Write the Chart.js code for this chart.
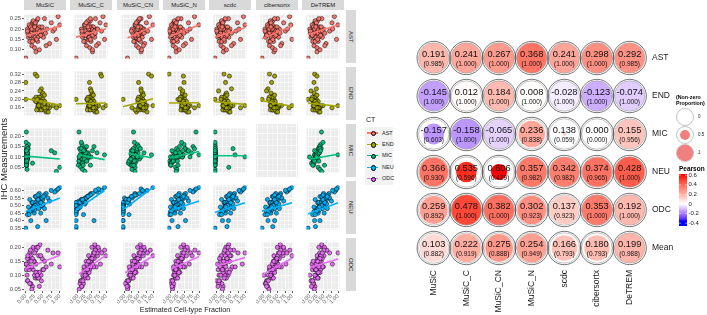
<!DOCTYPE html>
<html>
<head>
<meta charset="utf-8">
<script src="https://cdn.jsdelivr.net/npm/chart.js@4.4.1/dist/chart.umd.min.js"></script>
<style>
  body { margin: 0; background: #fff; width: 707px; height: 315px; position: relative; overflow: hidden; font-family: "Liberation Sans", Arial, sans-serif; }
  canvas { position: absolute; }
  .strip { position: absolute; background: #d9d9d9; color: #1a1a1a; font-size: 6px; display: flex; align-items: center; justify-content: center; white-space: nowrap; }
  .vstrip { writing-mode: vertical-rl; }
  .lbl { position: absolute; white-space: nowrap; color: #000; }
</style>
</head>
<body>
<script>
// categories
const methods = ['MuSiC', 'MuSiC_C', 'MuSiC_CN', 'MuSiC_N', 'scdc', 'cibersortx', 'DeTREM'];
const cellTypes = ['AST', 'END', 'MIC', 'NEU', 'ODC'];
const matrixRows = ['AST', 'END', 'MIC', 'NEU', 'ODC', 'Mean'];

// tick labels
const xTicks = [0, 0.25, 0.5, 0.75, 1];
const yTicksAST = [0.10, 0.15, 0.20, 0.25];
const yTicksEND = [0.16, 0.20, 0.24, 0.28, 0.32];
const yTicksMIC = [0.05, 0.10, 0.15, 0.20];
const yTicksNEU = [0.35, 0.40, 0.45, 0.50, 0.55, 0.60];
const yTicksODC = [0.05, 0.10, 0.15, 0.20];

// IHC measurements (same samples in every method column)
const ihcAST = [0.19,0.21,0.17,0.23,0.16,0.20,0.18,0.25,0.14,0.22,0.19,0.12,0.24,0.17,0.21,0.15,0.20,0.26,0.13,0.18,
  0.22,0.16,0.19,0.11,0.23,0.20,0.17,0.06,0.21,0.15,0.18,0.24,0.14,0.20,0.09,0.19,0.16,0.22,0.12,0.25,
  0.18,0.20,0.16,0.22,0.19,0.14,0.21,0.17,0.23,0.19,0.15,0.20,0.18,0.10,0.21,0.17];
const ihcEND = [0.17,0.19,0.16,0.21,0.15,0.18,0.20,0.32,0.16,0.17,0.22,0.15,0.31,0.18,0.19,0.16,0.25,0.17,0.14,0.20,
  0.18,0.16,0.23,0.15,0.17,0.21,0.28,0.16,0.19,0.15,0.18,0.24,0.17,0.16,0.20,0.15,0.19,0.22,0.17,0.16,
  0.18,0.16,0.20,0.17,0.15,0.19,0.21,0.16,0.18,0.17,0.14,0.20,0.16,0.19,0.17,0.18];
const ihcMIC = [0.10,0.12,0.08,0.14,0.09,0.11,0.15,0.07,0.13,0.10,0.22,0.09,0.12,0.06,0.11,0.16,0.08,0.10,0.13,0.05,
  0.11,0.09,0.14,0.12,0.07,0.10,0.17,0.08,0.15,0.04,0.11,0.13,0.09,0.12,0.10,0.03,0.08,0.14,0.11,0.06,
  0.09,0.11,0.13,0.08,0.10,0.12,0.07,0.14,0.10,0.09,0.11,0.06,0.12,0.10,0.08,0.13];
const ihcNEU = [0.50,0.55,0.48,0.58,0.45,0.52,0.60,0.47,0.54,0.50,0.40,0.56,0.49,0.62,0.51,0.46,0.57,0.53,0.35,0.59,
  0.48,0.52,0.44,0.55,0.61,0.50,0.47,0.40,0.54,0.58,0.51,0.36,0.49,0.56,0.53,0.45,0.60,0.48,0.52,0.57,
  0.52,0.49,0.54,0.47,0.51,0.55,0.50,0.46,0.53,0.48,0.56,0.50,0.44,0.52,0.49,0.54];
const ihcODC = [0.14,0.18,0.10,0.20,0.08,0.15,0.12,0.17,0.06,0.13,0.19,0.11,0.16,0.09,0.21,0.14,0.07,0.18,0.12,0.15,
  0.10,0.20,0.13,0.05,0.17,0.11,0.16,0.19,0.08,0.14,0.12,0.18,0.09,0.15,0.20,0.13,0.10,0.16,0.07,0.17,
  0.12,0.15,0.09,0.17,0.13,0.11,0.19,0.14,0.08,0.16,0.10,0.13,0.18,0.06,0.15,0.12];

// estimated fractions, one list per method (order of methods[])
const fracAST = [
  [0.30,0.12,0.45,0.20,0.08,0.62,0.25,0.55,0.35,0.15,0.80,0.18,0.32,0.10,0.40,0.22,0.05,0.95,0.70,0.38,0.28,0.52,0.14,0.26,0.75,0.34,0.18,0.00,0.48,0.90,0.06,0.22,0.12,0.85,0.30,0.42,0.28,1.00,0.60,0.36, 0.16,0.24,0.36,0.10,0.50,0.20,0.14,0.44,0.28,0.05,0.32,0.18,0.58,0.40,0.26,0.12],
  [0.45,0.30,0.60,0.38,0.22,0.70,0.42,0.65,0.50,0.28,0.85,0.35,0.48,0.25,0.55,0.40,0.18,0.90,0.75,0.52,0.44,0.62,0.32,0.46,0.80,0.50,0.36,0.00,0.58,0.95,0.20,0.40,0.30,0.72,0.55,0.56,0.42,1.00,0.68,0.48, 0.38,0.52,0.44,0.30,0.60,0.26,0.46,0.56,0.34,0.20,0.48,0.42,0.64,0.55,0.40,0.32],
  [0.50,0.42,0.62,0.48,0.35,0.70,0.55,0.60,0.58,0.40,0.82,0.45,0.52,0.38,0.56,0.50,0.30,0.88,0.72,0.54,0.46,0.64,0.44,0.52,0.78,0.58,0.48,0.15,0.60,0.95,0.32,0.50,0.40,0.66,0.60,0.62,0.44,1.00,0.68,0.55, 0.46,0.56,0.52,0.42,0.64,0.36,0.58,0.50,0.44,0.28,0.54,0.48,0.70,0.62,0.50,0.40],
  [0.22,0.10,0.35,0.15,0.05,0.45,0.18,0.40,0.28,0.12,0.60,0.14,0.25,0.08,0.30,0.20,0.03,0.85,0.55,0.28,0.20,0.42,0.10,0.22,0.65,0.26,0.15,0.00,0.38,0.75,0.04,0.18,0.10,0.70,0.24,0.32,0.20,1.00,0.48,0.30, 0.14,0.22,0.30,0.08,0.40,0.16,0.12,0.36,0.24,0.02,0.26,0.14,0.50,0.34,0.20,0.10],
  [0.26,0.14,0.40,0.20,0.10,0.50,0.22,0.45,0.32,0.16,0.70,0.20,0.30,0.12,0.36,0.24,0.06,0.95,0.62,0.30,0.24,0.46,0.12,0.28,0.75,0.30,0.18,0.00,0.42,0.85,0.08,0.22,0.14,0.80,0.28,0.38,0.24,1.00,0.55,0.34, 0.18,0.28,0.34,0.12,0.46,0.22,0.16,0.40,0.26,0.06,0.30,0.20,0.55,0.38,0.24,0.12],
  [0.32,0.20,0.48,0.26,0.12,0.58,0.30,0.52,0.38,0.22,0.78,0.25,0.36,0.16,0.44,0.30,0.10,0.92,0.66,0.40,0.34,0.55,0.20,0.35,0.72,0.42,0.26,0.00,0.50,1.00,0.14,0.28,0.22,0.85,0.40,0.46,0.32,0.96,0.62,0.42, 0.24,0.34,0.40,0.18,0.52,0.28,0.20,0.46,0.30,0.10,0.36,0.24,0.60,0.44,0.30,0.16],
  [0.28,0.16,0.42,0.22,0.10,0.52,0.24,0.46,0.34,0.18,0.72,0.20,0.32,0.12,0.38,0.26,0.06,0.88,0.60,0.32,0.26,0.48,0.14,0.30,0.80,0.34,0.20,0.00,0.44,0.95,0.08,0.24,0.16,0.82,0.30,0.40,0.26,1.00,0.56,0.36, 0.20,0.30,0.36,0.14,0.48,0.24,0.18,0.42,0.28,0.08,0.32,0.22,0.56,0.40,0.26,0.14]
];
const fracEND = [
  [0.45,0.30,0.55,0.38,0.62,0.42,0.50,0.28,0.35,0.58,0.48,0.40,0.33,0.52,0.44,0.70,0.46,0.36,0.60,0.25,0.54,0.48,0.50,0.32,0.80,0.40,0.00,0.44,0.56,0.52,0.38,0.42,0.65,0.58,0.00,0.46,0.30,0.55,1.00,0.90, 0.40,0.52,0.36,0.48,0.58,0.44,0.30,0.62,0.42,0.50,0.66,0.34,0.56,0.46,0.38,0.54],
  [0.50,0.42,0.58,0.46,0.62,0.48,0.55,0.82,0.40,0.60,0.52,0.44,0.85,0.56,0.50,0.68,0.48,0.42,0.64,0.36,0.58,0.50,0.54,0.38,0.75,0.46,0.45,0.52,0.60,0.56,0.44,0.50,0.66,0.62,0.00,0.48,0.40,0.58,1.00,0.90, 0.46,0.54,0.42,0.50,0.60,0.48,0.40,0.64,0.52,0.44,0.70,0.38,0.58,0.50,0.46,0.56],
  [0.62,0.55,0.68,0.60,0.72,0.58,0.66,0.85,0.52,0.70,0.64,0.56,0.95,0.68,0.62,0.75,0.60,0.54,0.45,0.50,0.70,0.62,0.66,0.48,0.80,0.58,0.52,0.64,0.72,0.66,0.56,0.60,0.74,0.70,0.00,0.40,0.50,0.68,1.00,0.30, 0.58,0.66,0.54,0.62,0.70,0.60,0.52,0.76,0.64,0.56,0.80,0.50,0.68,0.62,0.58,0.66],
  [0.48,0.40,0.55,0.45,0.58,0.50,0.52,0.00,0.42,0.56,0.46,0.44,0.48,0.54,0.50,0.62,0.38,0.46,0.60,0.36,0.52,0.48,0.44,0.40,0.70,0.42,0.50,0.56,0.58,0.50,0.44,0.46,0.64,0.60,0.30,0.52,0.40,0.54,1.00,0.85, 0.44,0.52,0.40,0.48,0.56,0.46,0.38,0.60,0.50,0.42,0.66,0.36,0.54,0.48,0.44,0.52],
  [0.32,0.25,0.40,0.30,0.45,0.36,0.38,0.30,0.28,0.42,0.34,0.30,0.48,0.40,0.35,0.50,0.55,0.32,0.46,0.22,0.40,0.36,0.38,0.26,0.60,0.30,0.35,0.42,0.44,0.38,0.30,0.12,0.52,0.48,0.00,0.34,0.28,0.40,1.00,0.85, 0.28,0.36,0.24,0.32,0.40,0.30,0.22,0.44,0.34,0.26,0.50,0.20,0.38,0.32,0.28,0.36],
  [0.35,0.28,0.42,0.32,0.50,0.38,0.40,0.25,0.30,0.45,0.36,0.34,0.42,0.44,0.38,0.55,0.20,0.36,0.48,0.24,0.42,0.40,0.30,0.28,0.65,0.34,0.32,0.46,0.44,0.40,0.32,0.15,0.56,0.52,0.00,0.36,0.30,0.42,1.00,0.90, 0.30,0.38,0.26,0.34,0.44,0.32,0.24,0.48,0.36,0.28,0.52,0.22,0.40,0.34,0.30,0.38],
  [0.25,0.18,0.30,0.22,0.35,0.26,0.28,0.22,0.20,0.32,0.24,0.22,0.30,0.30,0.26,0.40,0.28,0.24,0.36,0.14,0.28,0.26,0.20,0.16,0.50,0.22,0.20,0.32,0.34,0.28,0.22,0.10,0.42,0.38,0.00,0.24,0.18,0.30,1.00,0.80, 0.20,0.28,0.16,0.24,0.32,0.22,0.14,0.36,0.26,0.18,0.40,0.12,0.30,0.24,0.20,0.28]
];
const fracMIC = [
  [0.02,0.04,0.01,0.03,0.05,0.02,0.06,0.03,0.01,0.04,0.02,0.03,0.05,0.01,0.04,0.08,0.02,0.03,0.75,1.00,0.02,0.05,0.04,0.03,0.20,0.06,0.01,0.02,0.03,0.04,0.05,0.02,0.03,0.85,0.01,0.90,0.04,0.07,0.02,0.03, 0.03,0.01,0.04,0.02,0.05,0.03,0.02,0.06,0.01,0.04,0.03,0.02,0.05,0.01,0.03,0.02],
  [0.15,0.25,0.10,0.30,0.20,0.18,0.35,0.12,0.22,0.28,0.10,0.14,0.40,0.08,0.32,0.20,0.24,0.45,0.55,0.16,0.26,0.38,0.12,0.30,0.20,0.50,0.18,0.34,0.60,0.22,0.42,0.28,0.14,0.70,0.36,0.30,0.10,0.24,0.95,0.48, 0.20,0.30,0.16,0.26,0.12,0.34,0.22,0.18,0.40,0.28,0.14,0.24,0.32,0.10,0.36,0.26],
  [0.30,0.35,0.25,0.40,0.32,0.28,0.42,0.20,0.45,0.38,0.35,0.30,0.50,0.26,0.34,0.48,0.22,0.36,0.44,0.40,0.28,0.55,0.46,0.32,0.18,0.60,0.38,0.24,0.52,0.30,0.42,0.36,0.26,0.70,0.34,0.40,0.20,0.58,0.95,0.30, 0.32,0.38,0.28,0.44,0.36,0.30,0.40,0.34,0.46,0.26,0.42,0.36,0.30,0.48,0.38,0.32],
  [0.05,0.15,0.02,0.25,0.10,0.20,0.35,0.08,0.30,0.12,0.90,0.18,0.40,0.06,0.28,0.50,0.14,0.45,0.60,0.22,0.32,0.10,0.55,0.38,0.04,0.70,0.42,0.16,0.80,0.26,0.48,0.65,0.20,0.75,0.36,0.24,0.12,0.85,1.00,0.30, 0.18,0.34,0.10,0.28,0.44,0.22,0.08,0.52,0.30,0.16,0.40,0.06,0.36,0.24,0.14,0.46],
  [0,0,0,0,0,0,0,0,0,0,0,0,0,0,0,0,0,0,0,0.46,0,0,0.60,0,0,1.00,0,0,0,0,0,0,0,0,0,0,0,0,0.67,0, 0,0,0,0,0,0,0,0,0,0,0,0,0,0,0,0],
  [],
  [0.25,0.30,0.20,0.35,0.28,0.22,0.40,0.15,0.32,0.26,0.45,0.24,0.38,0.18,0.30,0.42,0.20,0.28,0.36,0.34,0.22,0.16,0.44,0.30,0.12,0.26,0.50,0.20,0.38,0.40,0.28,0.34,0.24,0.32,0.05,0.46,0.18,0.36,1.00,0.55, 0.28,0.32,0.22,0.36,0.26,0.30,0.20,0.40,0.34,0.24,0.30,0.16,0.38,0.28,0.22,0.42]
];
const fracNEU = [
  [0.30,0.45,0.20,0.60,0.25,0.40,0.90,0.15,0.50,0.35,0.15,0.28,0.42,1.00,0.22,0.10,0.55,0.32,0.00,0.85,0.38,0.18,0.05,0.65,0.95,0.48,0.26,0.60,0.12,0.40,0.52,0.35,0.08,0.30,0.70,0.44,0.75,0.55,0.20,0.36, 0.30,0.22,0.42,0.18,0.34,0.48,0.26,0.12,0.38,0.20,0.52,0.28,0.10,0.44,0.24,0.36],
  [0.00,0.35,0.02,0.50,0.00,0.20,0.85,0.00,0.28,0.01,0.00,0.40,0.05,0.95,0.15,0.00,0.45,0.10,0.00,0.70,0.03,0.00,0.25,0.30,0.75,0.00,0.02,0.60,0.18,0.55,0.00,0.00,0.04,0.38,0.22,0.00,0.65,0.08,0.12,0.48, 0.00,0.10,0.20,0.00,0.30,0.35,0.02,0.00,0.25,0.06,0.40,0.00,0.00,0.32,0.14,0.22],
  [0.00,0.05,0.00,0.40,0.00,0.02,0.80,0.00,0.15,0.00,0.00,0.30,0.00,1.00,0.01,0.00,0.45,0.10,0.00,0.70,0.00,0.03,0.20,0.25,0.60,0.00,0.00,0.00,0.12,0.55,0.02,0.00,0.00,0.35,0.08,0.00,0.65,0.00,0.05,0.40, 0.00,0.00,0.10,0.00,0.22,0.30,0.00,0.00,0.18,0.00,0.28,0.00,0.00,0.15,0.00,0.20],
  [0.25,0.40,0.15,0.55,0.20,0.35,0.85,0.10,0.45,0.30,0.10,0.22,0.38,1.00,0.18,0.05,0.50,0.28,0.00,0.80,0.32,0.14,0.02,0.60,0.90,0.42,0.20,0.55,0.08,0.34,0.46,0.30,0.05,0.26,0.65,0.38,0.70,0.48,0.16,0.30, 0.26,0.18,0.38,0.14,0.30,0.44,0.22,0.08,0.34,0.16,0.48,0.24,0.06,0.40,0.20,0.32],
  [0.40,0.52,0.30,0.65,0.35,0.48,0.90,0.25,0.58,0.44,0.25,0.38,0.50,1.00,0.32,0.20,0.62,0.42,0.00,0.85,0.46,0.30,0.15,0.70,0.95,0.55,0.36,0.45,0.22,0.50,0.60,0.40,0.18,0.42,0.75,0.52,0.80,0.62,0.34,0.46, 0.40,0.34,0.50,0.30,0.44,0.56,0.38,0.26,0.48,0.32,0.60,0.42,0.22,0.52,0.36,0.46],
  [0.35,0.48,0.25,0.62,0.30,0.44,0.88,0.20,0.55,0.40,0.20,0.34,0.46,1.00,0.28,0.15,0.60,0.38,0.00,0.82,0.42,0.26,0.10,0.66,0.92,0.50,0.32,0.42,0.18,0.46,0.56,0.36,0.12,0.38,0.72,0.48,0.78,0.58,0.28,0.42, 0.36,0.30,0.46,0.26,0.40,0.52,0.34,0.22,0.44,0.28,0.56,0.38,0.18,0.48,0.32,0.42],
  [0.40,0.55,0.30,0.70,0.34,0.50,0.92,0.26,0.62,0.46,0.22,0.40,0.52,1.00,0.36,0.20,0.66,0.45,0.00,0.88,0.48,0.32,0.16,0.72,0.95,0.56,0.38,0.40,0.24,0.52,0.62,0.25,0.20,0.46,0.78,0.54,0.82,0.64,0.36,0.50, 0.44,0.36,0.54,0.32,0.48,0.60,0.42,0.28,0.52,0.34,0.64,0.46,0.24,0.56,0.38,0.50]
];
const fracODC = [
  [0.30,0.12,0.45,0.22,0.05,0.55,0.02,0.38,0.20,0.10,0.65,0.35,0.08,0.28,0.42,0.00,0.15,0.80,0.50,0.25,0.04,0.32,0.60,0.18,0.14,0.40,0.48,0.30,0.06,0.75,0.22,0.95,0.34,0.10,0.36,1.00,0.26,0.05,0.12,0.44, 0.10,0.24,0.38,0.06,0.18,0.30,0.14,0.02,0.46,0.20,0.34,0.08,0.26,0.40,0.16,0.52],
  [0.40,0.55,0.30,0.62,0.10,0.48,0.22,0.70,0.15,0.35,0.75,0.28,0.45,0.20,0.60,0.52,0.08,0.85,0.42,0.30,0.18,0.50,0.65,0.05,0.38,0.25,0.58,0.95,0.12,0.80,0.34,0.68,0.26,0.44,0.72,0.56,0.32,0.46,0.20,1.00, 0.28,0.44,0.36,0.54,0.22,0.40,0.62,0.32,0.18,0.50,0.26,0.46,0.58,0.14,0.38,0.34],
  [0.35,0.50,0.25,0.58,0.08,0.42,0.18,0.65,0.12,0.30,0.70,0.40,0.38,0.22,0.55,0.48,0.05,0.80,0.36,0.26,0.15,0.45,0.60,0.10,0.32,0.20,0.52,0.90,0.14,0.75,0.28,0.62,0.24,0.40,0.68,0.50,0.30,0.42,0.02,1.00, 0.22,0.40,0.30,0.50,0.16,0.36,0.58,0.28,0.12,0.46,0.20,0.42,0.54,0.08,0.34,0.26],
  [0.28,0.40,0.20,0.48,0.04,0.35,0.12,0.55,0.08,0.22,0.60,0.32,0.30,0.16,0.45,0.38,0.02,0.70,0.26,0.18,0.10,0.36,0.50,0.06,0.24,0.14,0.42,0.85,0.00,0.65,0.20,1.00,0.18,0.30,0.58,0.44,0.22,0.34,0.10,0.75, 0.16,0.32,0.24,0.42,0.10,0.28,0.50,0.20,0.06,0.38,0.14,0.34,0.46,0.04,0.26,0.18],
  [0.30,0.25,0.40,0.35,0.10,0.45,0.05,0.50,0.22,0.15,0.60,0.38,0.12,0.30,0.42,0.02,0.18,0.75,0.48,0.26,0.08,0.32,0.55,0.20,0.16,0.44,0.36,0.28,0.00,0.90,0.24,1.00,0.34,0.14,0.40,0.65,0.28,0.10,0.06,0.46, 0.18,0.34,0.26,0.30,0.12,0.22,0.48,0.28,0.08,0.36,0.14,0.32,0.40,0.04,0.24,0.20],
  [0.40,0.52,0.28,0.60,0.10,0.45,0.20,0.68,0.14,0.32,0.72,0.30,0.42,0.24,0.58,0.50,0.05,0.82,0.38,0.34,0.00,0.48,0.62,0.18,0.36,0.26,0.55,0.92,0.12,0.78,0.22,0.66,0.30,0.44,0.70,0.54,0.16,0.46,0.08,1.00, 0.26,0.42,0.34,0.50,0.20,0.38,0.60,0.30,0.16,0.46,0.24,0.44,0.56,0.10,0.36,0.32],
  [0.30,0.35,0.22,0.45,0.06,0.40,0.10,0.50,0.18,0.26,0.55,0.34,0.28,0.20,0.42,0.08,0.14,0.70,0.38,0.24,0.00,0.32,0.48,0.16,0.26,0.36,0.44,0.60,0.04,0.80,0.22,1.00,0.30,0.12,0.52,0.46,0.20,0.34,0.12,0.38, 0.20,0.34,0.28,0.40,0.14,0.30,0.50,0.24,0.10,0.36,0.18,0.32,0.44,0.06,0.28,0.22]
];

// fitted line values at the left and right end of each panel's data
const fitAST = [[0.166,0.214],[0.161,0.201],[0.157,0.214],[0.163,0.219],[0.161,0.206],[0.153,0.214],[0.174,0.219]];
const fitEND = [[0.204,0.173],[0.179,0.183],[0.165,0.203],[0.183,0.184],[0.189,0.176],[0.193,0.167],[0.183,0.167]];
const fitMIC = [[0.104,0.090],[0.109,0.087],[0.117,0.096],[0.096,0.126],[0.106,0.106],null,[0.089,0.113]];
const fitNEU = [[0.460,0.550],[0.470,0.600],[0.472,0.620],[0.463,0.530],[0.454,0.518],[0.463,0.518],[0.444,0.518]];
const fitODC = [[0.124,0.172],[0.105,0.172],[0.109,0.169],[0.122,0.167],[0.133,0.164],[0.105,0.161],[0.128,0.158]];

// correlation matrix (rows = matrixRows, cols = methods)
const pearson = [
  [0.191, 0.241, 0.267, 0.368, 0.241, 0.298, 0.292],
  [-0.145, 0.012, 0.184, 0.008, -0.028, -0.123, -0.074],
  [-0.157, -0.158, -0.065, 0.236, 0.138, 0.000, 0.155],
  [0.366, 0.535, 0.606, 0.357, 0.342, 0.374, 0.428],
  [0.259, 0.478, 0.382, 0.302, 0.137, 0.353, 0.192],
  [0.103, 0.222, 0.275, 0.254, 0.166, 0.180, 0.199]
];
const nonZero = [
  [0.985, 1.000, 1.000, 1.000, 1.000, 1.000, 0.985],
  [1.000, 1.000, 1.000, 1.000, 1.000, 1.000, 1.000],
  [0.603, 1.000, 1.000, 0.838, 0.059, 0.000, 0.956],
  [0.930, 0.596, 0.429, 0.982, 0.982, 0.965, 1.000],
  [0.892, 1.000, 1.000, 0.923, 0.923, 1.000, 1.000],
  [0.882, 0.919, 0.888, 0.949, 0.793, 0.793, 0.988]
];

// ---------------------------------------------------------------
Chart.defaults.font.family = '"Liberation Sans", Arial, sans-serif';
Chart.defaults.animation = false;

const ctColors = ['#F8766D', '#A3A500', '#00BF7D', '#00B0F6', '#E76BF3'];
const ihcRows = [ihcAST, ihcEND, ihcMIC, ihcNEU, ihcODC];
const fracRows = [fracAST, fracEND, fracMIC, fracNEU, fracODC];
const fitRows = [fitAST, fitEND, fitMIC, fitNEU, fitODC];
const yTickRows = [yTicksAST, yTicksEND, yTicksMIC, yTicksNEU, yTicksODC];
const yRanges = [[0.058, 0.270], [0.1235, 0.332], [0.025, 0.237], [0.341, 0.633], [0.0435, 0.2174]];

const colLeft = c => Math.round(24 + c * 46.3);
const rowTop = r => 10 + r * 57;
const panelW = 42, panelH = 53;

function addEl(cls, css, text) {
  const d = document.createElement('div');
  d.className = cls;
  Object.assign(d.style, css);
  if (text != null) d.textContent = text;
  document.body.appendChild(d);
  return d;
}
function addCanvas(left, top, w, h) {
  const cv = document.createElement('canvas');
  cv.width = w; cv.height = h;
  cv.style.left = left + 'px'; cv.style.top = top + 'px';
  document.body.appendChild(cv);
  return cv;
}

// majors plus midpoints (ggplot minor grid)
function gridWith(majors, lo, hi) {
  const step = majors[1] - majors[0];
  const out = [];
  for (let v = majors[0] - step / 2; v <= hi + 1e-9; v += step / 2) {
    if (v >= lo && v <= hi) out.push(+v.toFixed(5));
  }
  return out;
}
const isMajor = (v, majors) => majors.some(m => Math.abs(m - v) < 1e-6);

const panelBg = {
  id: 'panelBg',
  beforeDraw(chart) {
    const a = chart.chartArea, ctx = chart.ctx;
    ctx.save();
    ctx.fillStyle = '#ebebeb';
    ctx.fillRect(a.left, a.top, a.right - a.left, a.bottom - a.top);
    ctx.restore();
  }
};

// ---------------- facet grid ----------------
cellTypes.forEach((ct, r) => {
  const yMaj = yTickRows[r];
  const [yLo, yHi] = yRanges[r];
  const yGrid = gridWith(yMaj, yLo, yHi);
  const xGrid = gridWith(xTicks, -0.05, 1.05);

  methods.forEach((m, c) => {
    const yAxisW = c === 0 ? 24 : 0;
    const xAxisH = r === 4 ? 22 : 0;
    const cv = addCanvas(colLeft(c) - yAxisW, rowTop(r), panelW + yAxisW, panelH + xAxisH);

    const xs = fracRows[r][c];
    const pts = xs.map((x, i) => ({ x: x, y: ihcRows[r][i] }));
    const fit = fitRows[r][c];
    const datasets = [];
    if (fit && xs.length) {
      const x0 = Math.min(...xs), x1 = Math.max(...xs);
      datasets.push({ data: [{ x: x0, y: fit[0] }, { x: x1, y: fit[1] }], showLine: true,
        borderColor: ctColors[r], borderWidth: 1.6, pointRadius: 0, order: 0 });
    }
    datasets.push({ data: pts, backgroundColor: ctColors[r], borderColor: '#000', borderWidth: 0.5,
      pointRadius: 2.1, order: 1 });

    new Chart(cv, {
      type: 'scatter',
      data: { datasets: datasets },
      options: {
        responsive: false, devicePixelRatio: 1, events: [],
        layout: { padding: 0 },
        plugins: { legend: { display: false }, tooltip: { enabled: false } },
        scales: {
          x: {
            type: 'linear', min: -0.05, max: 1.05,
            afterBuildTicks: s => { s.ticks = xGrid.map(v => ({ value: v })); },
            afterFit: s => { s.height = xAxisH; },
            border: { display: false },
            grid: {
              color: '#ffffff',
              lineWidth: ctx => isMajor(ctx.tick.value, xTicks) ? 0.8 : 0.4,
              drawTicks: r === 4, tickLength: 2,
              tickColor: ctx => isMajor(ctx.tick.value, xTicks) ? '#333333' : 'rgba(0,0,0,0)'
            },
            ticks: {
              display: r === 4, autoSkip: false, minRotation: 45, maxRotation: 45, padding: 0,
              color: '#4d4d4d', font: { size: 5.5 },
              callback: v => isMajor(v, xTicks) ? v.toFixed(2) : ''
            }
          },
          y: {
            type: 'linear', min: yLo, max: yHi,
            afterBuildTicks: s => { s.ticks = yGrid.map(v => ({ value: v })); },
            afterFit: s => { s.width = yAxisW; },
            border: { display: false },
            grid: {
              color: '#ffffff',
              lineWidth: ctx => isMajor(ctx.tick.value, yMaj) ? 0.8 : 0.4,
              drawTicks: c === 0, tickLength: 2,
              tickColor: ctx => isMajor(ctx.tick.value, yMaj) ? '#333333' : 'rgba(0,0,0,0)'
            },
            ticks: {
              display: c === 0, autoSkip: false, padding: 1,
              color: '#4d4d4d', font: { size: 5.8 },
              callback: v => isMajor(v, yMaj) ? v.toFixed(2) : ''
            }
          }
        }
      },
      plugins: [panelBg]
    });
  });

  // row strip on the right
  addEl('strip vstrip', { left: '346px', top: rowTop(r) + 'px', width: '10px', height: panelH + 'px' }, ct);
});

methods.forEach((m, c) => {
  addEl('strip', { left: colLeft(c) + 'px', top: '0px', width: panelW + 'px', height: '10px' }, m);
});

addEl('lbl', { left: '139px', top: '305px', fontSize: '7.2px', width: '92px', textAlign: 'center', color: '#1a1a1a' }, 'Estimated Cell-type Fraction');
addEl('lbl', { left: '-42px', top: '153px', fontSize: '9.5px', width: '92px', height: '12px', lineHeight: '12px', textAlign: 'center', color: '#1a1a1a', transform: 'rotate(-90deg)' }, 'IHC Measurements');

// CT legend
addEl('lbl', { left: '366px', top: '116px', fontSize: '7px', color: '#1a1a1a' }, 'CT');
addEl('lbl', { left: '365px', top: '127px', width: '28px', height: '58px', background: '#f2f2f2' });
cellTypes.forEach((ct, i) => {
  const y = 133 + i * 11.4;
  addEl('lbl', { left: '367px', top: (y - 0.7) + 'px', width: '11px', height: '1.4px', background: ctColors[i] });
  addEl('lbl', { left: '370.5px', top: (y - 2) + 'px', width: '3.4px', height: '3.4px', borderRadius: '50%',
    background: ctColors[i], border: '0.5px solid #000' });
  addEl('lbl', { left: '382px', top: (y - 3.5) + 'px', fontSize: '5.5px', color: '#1a1a1a' }, ct);
});

// ---------------- colour scale ----------------
function toLab(rgb) {
  const lin = rgb.map(c => { c /= 255; return c <= 0.04045 ? c / 12.92 : Math.pow((c + 0.055) / 1.055, 2.4); });
  const X = (0.4124 * lin[0] + 0.3576 * lin[1] + 0.1805 * lin[2]) / 0.95047;
  const Y = 0.2126 * lin[0] + 0.7152 * lin[1] + 0.0722 * lin[2];
  const Z = (0.0193 * lin[0] + 0.1192 * lin[1] + 0.9505 * lin[2]) / 1.08883;
  const f = t => t > 0.008856 ? Math.cbrt(t) : 7.787 * t + 16 / 116;
  return [116 * f(Y) - 16, 500 * (f(X) - f(Y)), 200 * (f(Y) - f(Z))];
}
function fromLab(lab) {
  const fy = (lab[0] + 16) / 116, fx = fy + lab[1] / 500, fz = fy - lab[2] / 200;
  const inv = t => t > 0.206893 ? t * t * t : (t - 16 / 116) / 7.787;
  const X = inv(fx) * 0.95047, Y = inv(fy), Z = inv(fz) * 1.08883;
  const lin = [3.2406 * X - 1.5372 * Y - 0.4986 * Z, -0.9689 * X + 1.8758 * Y + 0.0415 * Z, 0.0557 * X - 0.2040 * Y + 1.0570 * Z];
  return lin.map(c => { c = c <= 0.0031308 ? 12.92 * c : 1.055 * Math.pow(c, 1 / 2.4) - 0.055; return Math.min(1, Math.max(0, c)) * 255; });
}
const LAB_W = toLab([255, 255, 255]), LAB_R = toLab([255, 0, 0]), LAB_B = toLab([0, 0, 255]);
function pearsonColor(v) {
  if (v >= 0) {
    const t = Math.min(v / 0.6, 1);
    const lab = fromLab(LAB_W.map((w, i) => w + (LAB_R[i] - w) * t));
    const lin = [255, 255 * (1 - t), 255 * (1 - t)];
    return 'rgb(' + lab.map((c, i) => Math.round((c + lin[i]) / 2)).join(',') + ')';
  }
  const t = Math.min(-v / 0.35, 1);
  return 'rgb(' + fromLab(LAB_W.map((w, i) => w + (LAB_B[i] - w) * t)).map(Math.round).join(',') + ')';
}
const fillScale = p => Math.pow(p, 0.75);

// ---------------- correlation circle matrix ----------------
const matPts = [];
matrixRows.forEach((rn, r) => methods.forEach((m, c) => {
  matPts.push({ x: c, y: r, v: pearson[r][c], p: nonZero[r][c] });
}));

const matrixText = {
  id: 'matrixText',
  afterDatasetsDraw(chart) {
    const ctx = chart.ctx;
    const meta = chart.getDatasetMeta(0);
    ctx.save();
    ctx.fillStyle = '#111';
    ctx.textAlign = 'center';
    ctx.textBaseline = 'middle';
    meta.data.forEach((el, i) => {
      const d = chart.data.datasets[0].data[i];
      ctx.font = '9.3px "Liberation Sans"';
      ctx.fillText(d.v.toFixed(3), el.x, el.y - 4);
      ctx.font = '6.5px "Liberation Sans"';
      ctx.fillText('(' + d.p.toFixed(3) + ')', el.x, el.y + 6);
    });
    ctx.restore();
  },
  afterDraw(chart) {
    const ctx = chart.ctx;
    ctx.save();
    // size legend
    ctx.fillStyle = '#000';
    ctx.font = 'bold 5.3px "Liberation Sans"';
    ctx.textAlign = 'left';
    ctx.textBaseline = 'middle';
    ctx.fillText('(Non-zero', 276, 98);
    ctx.fillText('Proportion)', 276, 104);
    [0, 0.5, 1].forEach((p, i) => {
      const cy = 117 + i * 18;
      ctx.beginPath(); ctx.arc(285, cy, 8.5, 0, Math.PI * 2);
      ctx.fillStyle = '#fff'; ctx.fill();
      ctx.strokeStyle = '#999'; ctx.lineWidth = 0.6; ctx.stroke();
      if (p > 0) {
        ctx.beginPath(); ctx.arc(285, cy, 8.3 * fillScale(p), 0, Math.PI * 2);
        ctx.fillStyle = '#f08080'; ctx.fill();
      }
      ctx.fillStyle = '#1a1a1a';
      ctx.font = '4.5px "Liberation Sans"';
      ctx.fillText(String(p), 298, cy);
    });
    // colour bar
    ctx.font = 'bold 6.5px "Liberation Sans"';
    ctx.fillStyle = '#000';
    ctx.fillText('Pearson', 279, 169);
    const yOf = v => 204 - v * 48;
    for (let y = 174; y < 226; y++) {
      const v = (204 - (y + 0.5)) / 48;
      ctx.fillStyle = pearsonColor(Math.max(-0.42, Math.min(0.62, v)));
      ctx.fillRect(279, y, 8, 1);
    }
    ctx.font = '6px "Liberation Sans"';
    ctx.fillStyle = '#1a1a1a';
    [0.6, 0.4, 0.2, 0, -0.2, -0.4].forEach(v => {
      ctx.strokeStyle = '#fff'; ctx.lineWidth = 0.5;
      ctx.beginPath(); ctx.moveTo(279, yOf(v)); ctx.lineTo(281, yOf(v)); ctx.moveTo(285, yOf(v)); ctx.lineTo(287, yOf(v)); ctx.stroke();
      ctx.fillText(String(v), 288.5, yOf(v));
    });
    ctx.restore();
  }
};

const mcv = addCanvas(400, 0, 307, 315);
new Chart(mcv, {
  type: 'scatter',
  data: {
    datasets: [
      { data: matPts, clip: false, order: 2, borderWidth: 0,
        pointRadius: ctx => ctx.raw ? 15.2 * fillScale(ctx.raw.p) : 0,
        backgroundColor: ctx => ctx.raw ? pearsonColor(ctx.raw.v) : '#fff' },
      { data: matPts, clip: false, order: 1, pointRadius: 15.2,
        backgroundColor: 'rgba(0,0,0,0)', borderColor: '#a0a0a0', borderWidth: 0.6 },
      { data: matPts, clip: false, order: 0, pointRadius: 16.7,
        backgroundColor: 'rgba(0,0,0,0)', borderColor: '#3c3c3c', borderWidth: 0.7 }
    ]
  },
  options: {
    responsive: false, devicePixelRatio: 1, events: [],
    layout: { padding: { left: 7, top: 39, right: 31, bottom: 0 } },
    plugins: { legend: { display: false }, tooltip: { enabled: false } },
    scales: {
      x: {
        type: 'linear', min: -0.5, max: 6.5,
        afterBuildTicks: s => { s.ticks = methods.map((m, i) => ({ value: i })); },
        afterFit: s => { s.height = 48; },
        border: { display: false },
        grid: { display: false, drawTicks: false },
        ticks: { autoSkip: false, minRotation: 90, maxRotation: 90, padding: 3,
          color: '#1a1a1a', font: { size: 8.5 }, callback: v => methods[v] }
      },
      y: {
        type: 'linear', min: -0.5, max: 5.5, reverse: true, position: 'right',
        afterBuildTicks: s => { s.ticks = matrixRows.map((m, i) => ({ value: i })); },
        afterFit: s => { s.width = 30; },
        border: { display: false },
        grid: { display: false, drawTicks: false },
        ticks: { autoSkip: false, padding: 6, color: '#1a1a1a', font: { size: 8.5 },
          callback: v => matrixRows[v] }
      }
    }
  },
  plugins: [matrixText]
});
</script>
</body>
</html>
